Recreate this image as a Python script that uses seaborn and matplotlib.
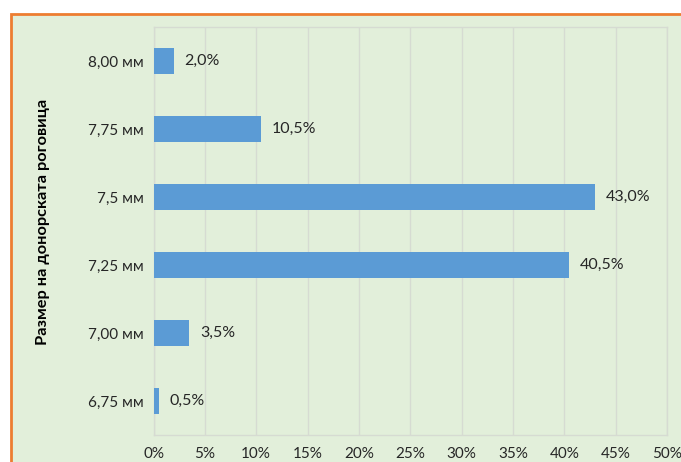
import matplotlib
matplotlib.use("Agg")
import matplotlib.pyplot as plt
import seaborn as sns
import pandas as pd
from matplotlib.patches import Rectangle
from matplotlib.ticker import FuncFormatter, MultipleLocator

categories = ["8,00 мм", "7,75 мм", "7,5 мм", "7,25 мм", "7,00 мм", "6,75 мм"]
values = [2.0, 10.5, 43.0, 40.5, 3.5, 0.5]
value_labels = ["2,0%", "10,5%", "43,0%", "40,5%", "3,5%", "0,5%"]
y_title = "Размер на донорската роговица"

sns.set_theme(style="white")
plt.rcParams["font.family"] = ["Lato", "DejaVu Sans"]

GREEN = "#E2EFDA"
ORANGE = "#ED7D31"
BLUE = "#5B9BD5"
GRID = "#D6DBD2"
TEXT = "#262626"

W, H = 681, 462
fig = plt.figure(figsize=(W / 100, H / 100), dpi=100)
fig.patch.set_facecolor("white")
# chart area background with orange border
bg = Rectangle((11 / W, -0.1), 1.2, 1 - 14 / H + 0.1, transform=fig.transFigure,
               facecolor=GREEN, edgecolor=ORANGE, linewidth=2, zorder=-10)
fig.patches.append(bg)

ax = fig.add_axes([153.5 / W, 1 - 435 / H, (667 - 153.5) / W, (435 - 27) / H])
ax.set_zorder(1)
ax.set_facecolor(GREEN)

df = pd.DataFrame({"cat": categories, "val": values})
sns.barplot(data=df, x="val", y="cat", orient="h", color=BLUE, width=0.38,
            saturation=1, linewidth=0, ax=ax, zorder=3)

ax.set_xlim(0, 50)
ax.set_ylim(5.5, -0.5)
ax.xaxis.set_major_locator(MultipleLocator(5))
ax.xaxis.set_major_formatter(FuncFormatter(lambda v, p: f"{int(round(v))}%"))
ax.grid(axis="x", color=GRID, linewidth=1, zorder=0)
ax.grid(axis="y", visible=False)
ax.set_axisbelow(True)
for s in ax.spines.values():
    s.set_color(GRID)
    s.set_linewidth(1)

ax.tick_params(axis="x", length=0, pad=9, labelsize=11, labelcolor=TEXT)
ax.tick_params(axis="y", length=0, pad=7, labelsize=11, labelcolor=TEXT)
ax.set_xlabel("")
ax.set_ylabel(y_title, fontsize=11.8, fontweight="bold", color="black")
ax.yaxis.set_label_coords((50 - 153.5) / (667 - 153.5), 1 - (222 - 27) / (435 - 27))

for i, (v, lab) in enumerate(zip(values, value_labels)):
    ax.annotate(lab, xy=(v, i), xytext=(7.5, 0), textcoords="offset points",
                va="center", ha="left", fontsize=11.5, color=TEXT, zorder=4)

fig.savefig("out.png", dpi=100)
